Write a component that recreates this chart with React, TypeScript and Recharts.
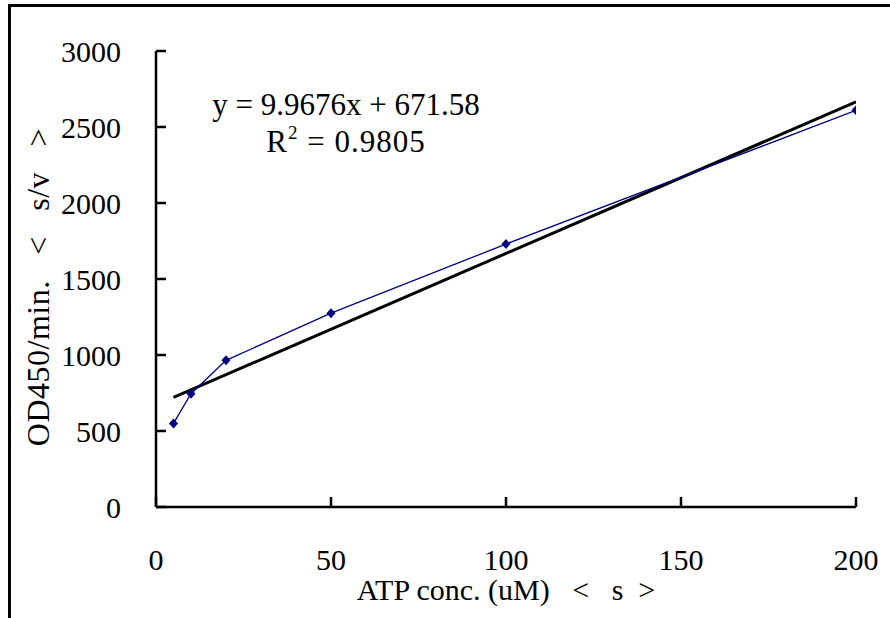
import { ComposedChart, Scatter, XAxis, YAxis, Label } from 'recharts';

// measured points
const atpConc = [5, 10, 20, 50, 100, 200];
const odRate = [550, 745, 965, 1275, 1730, 2610];

// linear trendline end points (y = 9.9676x + 671.58)
const trendX = [5, 200];
const trendY = [721, 2665];

const xTicks = [0, 50, 100, 150, 200];
const yTicks = [0, 500, 1000, 1500, 2000, 2500, 3000];

const FONT = "'Liberation Serif', 'Times New Roman', serif";
const NAVY = '#000080';

const points = atpConc.map((x, i) => ({ x, y: odRate[i] }));
const trend = trendX.map((x, i) => ({ x, y: trendY[i] }));

const Diamond = ({ cx, cy }: { cx?: number; cy?: number }) => {
  if (cx == null || cy == null) return null;
  return (
    <polygon
      points={`${cx},${cy - 5} ${cx + 4.5},${cy} ${cx},${cy + 5} ${cx - 4.5},${cy}`}
      fill={NAVY}
    />
  );
};

export default function App() {
  const tickStyle = { fontSize: 30, fill: '#000', fontFamily: FONT };

  return (
    <div
      style={{
        position: 'absolute',
        left: 0,
        top: 0,
        width: 890,
        height: 618,
        background: '#fff',
        fontFamily: FONT,
        overflow: 'hidden',
      }}
    >
      {/* frame of the chart area */}
      <div
        style={{
          position: 'absolute',
          left: 8,
          top: 4,
          width: 900,
          height: 700,
          borderLeft: '3px solid #000',
          borderTop: '3px solid #000',
        }}
      />
      <ComposedChart
        width={890}
        height={618}
        margin={{ top: 51, right: 34, left: 0, bottom: 0 }}
        style={{ position: 'absolute', left: 0, top: 0 }}
      >
        <XAxis
          type="number"
          dataKey="x"
          domain={[0, 200]}
          ticks={xTicks}
          height={111}
          axisLine={{ stroke: '#000', strokeWidth: 2.5 }}
          tickLine={{ stroke: '#000', strokeWidth: 2.5 }}
          tickSize={-10}
          tickMargin={52}
          tick={tickStyle}
          allowDataOverflow
        >
          <Label
            content={({ viewBox }: any) => (
              <text
                x={viewBox.x + viewBox.width / 2}
                y={600}
                textAnchor="middle"
                fontSize={30}
                fontFamily={FONT}
                fill="#000"
                style={{ whiteSpace: 'pre' }}
              >
                {'ATP conc. (uM)   <   s  >'}
              </text>
            )}
          />
        </XAxis>
        <YAxis
          type="number"
          dataKey="y"
          domain={[0, 3000]}
          ticks={yTicks}
          width={156}
          axisLine={{ stroke: '#000', strokeWidth: 2.5 }}
          tickLine={{ stroke: '#000', strokeWidth: 2.5 }}
          tickSize={-10}
          tickMargin={45}
          tick={tickStyle}
          allowDataOverflow
        >
          <Label
            content={({ viewBox }: any) => {
              const cx = 38;
              const cy = viewBox.y + viewBox.height / 2 + 8;
              return (
                <text
                  x={cx}
                  y={cy}
                  textAnchor="middle"
                  dominantBaseline="central"
                  transform={`rotate(-90, ${cx}, ${cy})`}
                  fontSize={32}
                  letterSpacing={0.5}
                  fontFamily={FONT}
                  fill="#000"
                  style={{ whiteSpace: 'pre' }}
                >
                  {'OD450/min.   <   s/v   >'}
                </text>
              );
            }}
          />
        </YAxis>
        <Scatter
          data={trend}
          line={{ stroke: '#000', strokeWidth: 3 }}
          shape={() => null}
          isAnimationActive={false}
        />
        <Scatter
          data={points}
          line={{ stroke: NAVY, strokeWidth: 1.3 }}
          shape={<Diamond />}
          isAnimationActive={false}
        />
      </ComposedChart>
      <div
        style={{
          position: 'absolute',
          left: 346,
          top: 86,
          transform: 'translateX(-50%)',
          fontSize: 31,
          lineHeight: '37px',
          textAlign: 'center',
          whiteSpace: 'pre',
          color: '#000',
        }}
      >
        <div>y = 9.9676x + 671.58</div>
        <div style={{ letterSpacing: 1 }}>
          R<sup style={{ fontSize: 19, verticalAlign: 'top', lineHeight: '20px' }}>2</sup>{' = 0.9805'}
        </div>
      </div>
    </div>
  );
}
